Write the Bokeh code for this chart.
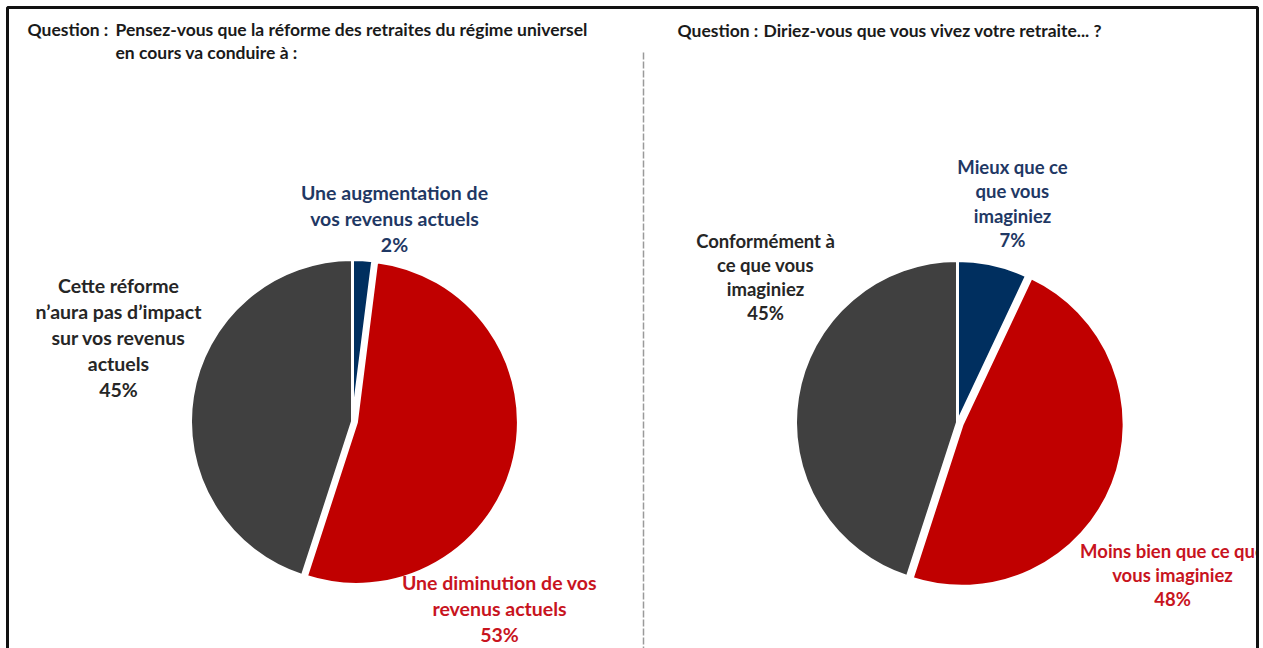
import math
from bokeh.plotting import figure
from bokeh.models import Range1d
from bokeh.core.properties import value
from bokeh.embed import file_html
from bokeh.resources import INLINE

# ---------------- data ----------------
q_prefix = "Question :"
q1_text = ["Pensez-vous que la réforme des retraites du régime universel",
           "en cours va conduire à :"]
q2_text = ["Diriez-vous que vous vivez votre retraite... ?"]

left_labels = [["Une augmentation de", "vos revenus actuels"],
               ["Une diminution de vos", "revenus actuels"],
               ["Cette réforme", "n\u2019aura pas d\u2019impact", "sur vos revenus", "actuels"]]
left_values = [2, 53, 45]

right_labels = [["Mieux que ce", "que vous", "imaginiez"],
                ["Moins bien que ce que", "vous imaginiez"],
                ["Conformément à", "ce que vous", "imaginiez"]]
right_values = [7, 48, 45]

slice_colors = ["#002F5F", "#C00000", "#404040"]
label_colors = ["#1F3864", "#C8141E", "#262626"]

W, H = 1263, 648
p = figure(width=W, height=H, output_backend="svg", toolbar_location=None,
           x_range=Range1d(0, W), y_range=Range1d(-H, 0),
           min_border=0, outline_line_color=None)
p.axis.visible = False
p.grid.visible = False
p.background_fill_color = "white"
p.border_fill_color = "white"

FONT = value("Lato")

# dashed divider
p.line([643, 643], [-52, -660], line_color="#9A9A9A", line_width=1.5, line_dash="7 2")

# questions
qstyle = dict(text_font=FONT, text_font_style="bold", text_font_size="17.5px",
              text_color="#1A1A1A", text_baseline="middle")
p.text([27], [-29], text=[q_prefix], **qstyle)
p.text([115, 115], [-29, -52], text=q1_text, **qstyle)
p.text([677], [-30], text=[q_prefix], **qstyle)
p.text([763], [-30], text=q2_text, **qstyle)


def draw_pie(cx, cy, r, vals, explode_idx, explode):
    total = sum(vals)
    start = math.pi / 2
    for i, v in enumerate(vals):
        sweep = 2 * math.pi * v / total
        end = start - sweep
        ox, oy = 0.0, 0.0
        if i == explode_idx:
            mid = (start + end) / 2
            ox, oy = explode * math.cos(mid), explode * math.sin(mid)
        p.wedge(x=[cx + ox], y=[cy + oy], radius=r, start_angle=end, end_angle=start,
                fill_color=slice_colors[i], line_color="white", line_width=3)
        start = end


draw_pie(352, -421, 162, left_values, 1, 4)
draw_pie(957, -422, 162, right_values, 1, 5)


def draw_label(cx, top, spacing, lines, val, color, size):
    all_lines = lines + [f"{val}%"]
    ys = [-(top + k * spacing) for k in range(len(all_lines))]
    p.text([cx] * len(all_lines), ys, text=all_lines, text_font=FONT,
           text_font_style="bold", text_font_size=size, text_color=color,
           text_align="center", text_baseline="middle")


# left pie labels
draw_label(394, 192, 26, left_labels[0], left_values[0], label_colors[0], "19.5px")
draw_label(499, 582, 26, left_labels[1], left_values[1], label_colors[1], "19.5px")
draw_label(118, 285, 26, left_labels[2], left_values[2], label_colors[2], "19.5px")

# right pie labels
draw_label(1012, 166, 24.5, right_labels[0], right_values[0], label_colors[0], "18.5px")
draw_label(1172, 550, 24, right_labels[1], right_values[1], label_colors[1], "18.5px")
draw_label(765, 240, 24, right_labels[2], right_values[2], label_colors[2], "18.5px")

# mask outside the frame on the right, then the frame border
p.quad(left=[1258], right=[1270], bottom=[-660], top=[0], fill_color="white", line_color=None)
p.line([7, 7, 1257, 1257], [-660, -7, -7, -660], line_color="#111111", line_width=3)

open("out.html", "w").write(file_html(p, INLINE))
